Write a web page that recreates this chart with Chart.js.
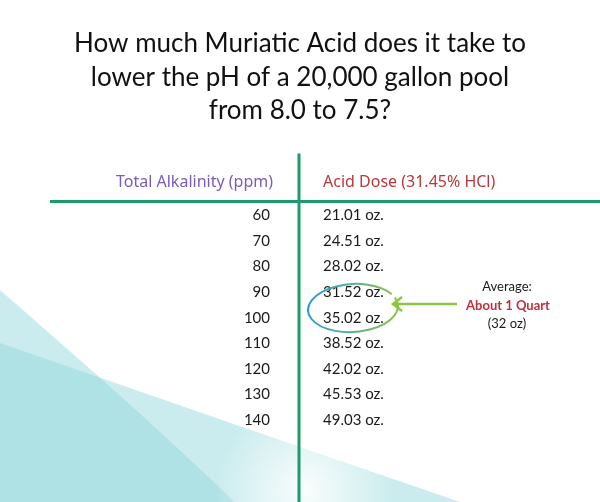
<!DOCTYPE html>
<html>
<head>
<meta charset="utf-8">
<script src="https://cdn.jsdelivr.net/npm/chart.js@4"></script>
<style>
  body { margin: 0; background: #fff; }
  #wrap { width: 600px; height: 502px; }
</style>
</head>
<body>
<div id="wrap"><canvas id="myChart" width="600" height="502"></canvas></div>
<script>
const titleLines = ['How much Muriatic Acid does it take to', 'lower the pH of a 20,000 gallon pool', 'from 8.0 to 7.5?']
const alkalinity = ['60', '70', '80', '90', '100', '110', '120', '130', '140']
const acidDose = [21.01, 24.51, 28.02, 31.52, 35.02, 38.52, 42.02, 45.53, 49.03]
const headers = ['Total Alkalinity (ppm)', 'Acid Dose (31.45% HCl)']
const noteLines = ['Average:', 'About 1 Quart', '(32 oz)']
const highlightRows = [3, 4]

const green = '#1f9a6b'

// teal waves in the background
const backdrop = {
    id: 'backdrop',
    beforeDraw(chart) {
        const c = chart.ctx
        const W = chart.width, H = chart.height
        c.save()
        c.fillStyle = 'rgba(150, 218, 222, 0.5)'
        c.beginPath()
        c.moveTo(0, 290)
        c.lineTo(97, 375)
        c.quadraticCurveTo(170, 440, 235, H)
        c.lineTo(0, H)
        c.closePath()
        c.fill()
        c.beginPath()
        c.moveTo(0, 343)
        c.lineTo(300, 447)
        c.lineTo(460, H)
        c.lineTo(0, H)
        c.closePath()
        c.fill()
        // whitish glare around the bottom of the divider
        const g = c.createRadialGradient(305, 490, 5, 305, 490, 90)
        g.addColorStop(0, 'rgba(255,255,255,0.85)')
        g.addColorStop(1, 'rgba(255,255,255,0)')
        c.fillStyle = g
        c.fillRect(200, 400, 220, 102)
        c.restore()
    }
}

// table text, grid lines and the note
const table = {
    id: 'table',
    afterDatasetsDraw(chart) {
        const c = chart.ctx
        const area = chart.chartArea
        const y = chart.scales.y
        const colLine = 299
        c.save()

        // grid lines
        c.strokeStyle = green
        c.lineWidth = 3
        c.beginPath()
        c.moveTo(colLine, area.top - 48)
        c.lineTo(colLine, chart.height)
        c.stroke()
        c.beginPath()
        c.moveTo(50, area.top)
        c.lineTo(area.right, area.top)
        c.stroke()

        // headers
        c.textBaseline = 'middle'
        c.font = '16px "Noto Sans"'
        c.fillStyle = '#7a5cb8'
        c.textAlign = 'right'
        c.fillText(headers[0], 273, area.top - 19)
        c.fillStyle = '#b8383c'
        c.textAlign = 'left'
        c.fillText(headers[1], 323, area.top - 19)

        // rows
        c.font = '15px Lato'
        c.fillStyle = '#1a1a1a'
        alkalinity.forEach((a, i) => {
            const py = y.getPixelForValue(i) + 1
            c.textAlign = 'right'
            c.fillText(a, 270, py)
            c.textAlign = 'left'
            c.fillText(acidDose[i].toFixed(2) + ' oz.', 323, py)
        })

        // circled rows
        const midY = (y.getPixelForValue(highlightRows[0]) + y.getPixelForValue(highlightRows[1])) / 2
        const grad = c.createLinearGradient(306, 0, 400, 0)
        grad.addColorStop(0, '#2a9bd8')
        grad.addColorStop(1, '#8cc63f')
        c.strokeStyle = grad
        c.lineWidth = 2
        c.beginPath()
        c.ellipse(353, midY + 4, 45, 24, -0.06, -0.35, Math.PI * 2 - 0.5)
        c.stroke()

        // arrow
        c.strokeStyle = '#8cc63f'
        c.lineWidth = 2.5
        c.beginPath()
        c.moveTo(457, midY)
        c.lineTo(393, midY)
        c.moveTo(402, midY - 7)
        c.lineTo(393, midY)
        c.lineTo(402, midY + 7)
        c.stroke()

        // note
        c.textAlign = 'center'
        c.font = '13px Lato'
        c.fillStyle = '#1a1a1a'
        c.fillText(noteLines[0], 507, midY - 17)
        c.font = 'bold 13px Lato'
        c.fillStyle = '#c0303a'
        c.fillText(noteLines[1], 508, midY + 1.5)
        c.font = '13px Lato'
        c.fillStyle = '#1a1a1a'
        c.fillText(noteLines[2], 507, midY + 20)

        c.restore()
    }
}

const ctx = document.getElementById('myChart')

const myChart = new Chart(ctx, {
    type: 'bar',
    data: {
        labels: alkalinity,
        datasets: [{
            label: 'Acid Dose',
            data: acidDose,
            backgroundColor: 'rgba(0,0,0,0)',
            borderWidth: 0
        }]
    },
    options: {
        responsive: false,
        animation: false,
        indexAxis: 'y',
        layout: {
            padding: { top: 10, left: 0, right: 0, bottom: 70 }
        },
        scales: {
            x: { display: false, min: 0, max: 60 },
            y: { display: false, offset: true }
        },
        plugins: {
            legend: { display: false },
            tooltip: { enabled: false },
            title: {
                display: true,
                text: titleLines,
                color: '#111111',
                font: { family: 'Lato', size: 26, weight: 'normal', lineHeight: 1.29 },
                padding: { top: 17, bottom: 74 }
            }
        }
    },
    plugins: [backdrop, table]
})
</script>
</body>
</html>
